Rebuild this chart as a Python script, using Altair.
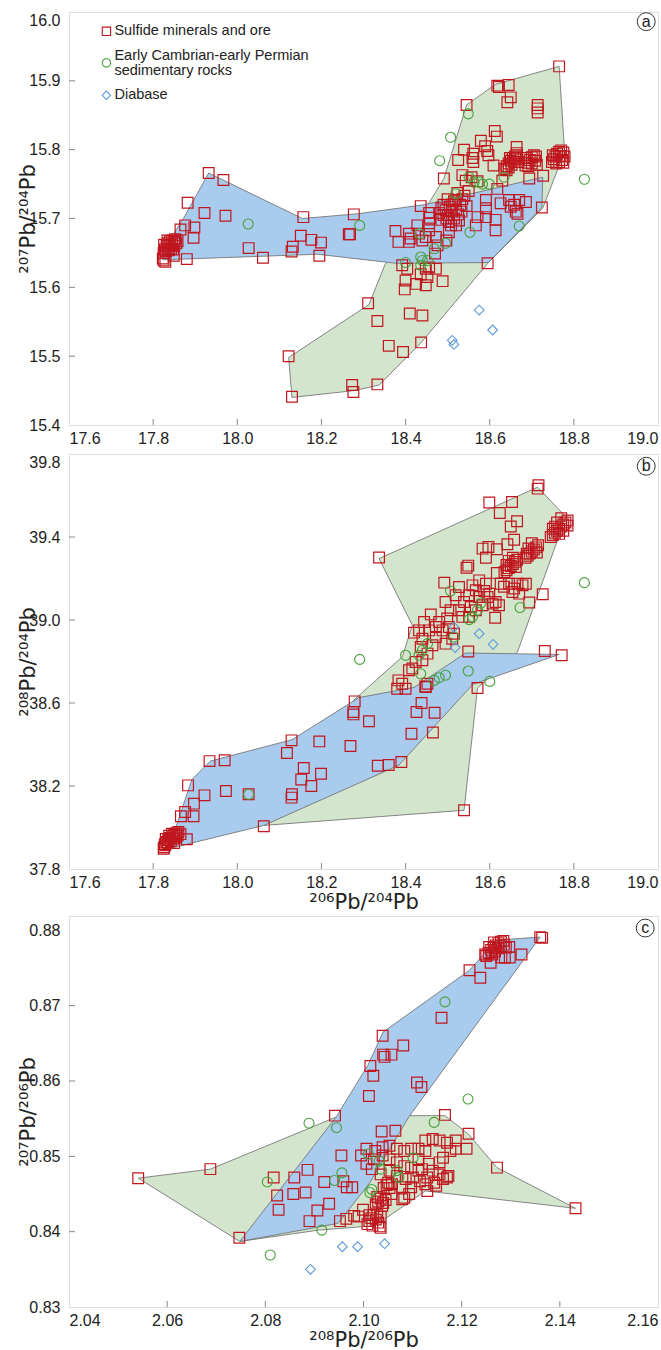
import altair as alt
import pandas as pd

RED = "#c0161e"
GREEN = "#48a03a"
BLUE = "#5b9bd8"
BLUE_FILL = "#a8cbee"
GREEN_FILL = "#d3e5cd"
EDGE = "#6a6a6a"
FRAME = "#555555"
FONT = "Liberation Sans"
TFONT = "DejaVu Sans"

# ---------------- Panel (a): 206Pb/204Pb vs 207Pb/204Pb ----------------
a_sulfide = [
    [17.882, 15.723], [17.922, 15.708], [17.972, 15.704], [18.157, 15.702], [17.876, 15.690],
    [17.898, 15.687], [17.865, 15.684], [17.896, 15.672], [18.027, 15.657], [18.061, 15.643],
    [18.132, 15.659], [18.129, 15.652], [18.151, 15.675], [18.176, 15.669], [18.199, 15.665],
    [18.195, 15.646], [18.265, 15.677], [17.880, 15.641], [17.825, 15.639], [17.829, 15.637],
    [17.823, 15.642], [17.849, 15.646], [17.932, 15.766], [17.967, 15.756],
    [17.825, 15.650], [17.828, 15.655], [17.832, 15.660], [17.836, 15.664], [17.840, 15.667],
    [17.845, 15.668], [17.850, 15.666], [17.855, 15.664], [17.830, 15.652], [17.835, 15.657],
    [17.840, 15.660], [17.845, 15.662], [17.850, 15.660], [17.838, 15.654], [17.843, 15.656],
    [17.848, 15.655], [17.826, 15.662], [17.852, 15.670], [17.858, 15.667], [17.834, 15.668],
    [18.765, 15.921], [18.618, 15.893], [18.622, 15.891], [18.645, 15.894], [18.650, 15.876],
    [18.642, 15.869], [18.714, 15.865], [18.714, 15.860], [18.714, 15.854], [18.545, 15.865],
    [18.612, 15.827], [18.617, 15.819], [18.579, 15.813], [18.589, 15.805], [18.594, 15.798],
    [18.597, 15.792], [18.539, 15.800], [18.561, 15.794], [18.559, 15.788], [18.561, 15.782],
    [18.525, 15.785], [18.609, 15.777], [18.664, 15.804], [18.664, 15.795],
    [18.635, 15.772], [18.640, 15.776], [18.645, 15.780], [18.650, 15.784], [18.655, 15.788],
    [18.660, 15.790], [18.665, 15.792], [18.645, 15.774], [18.652, 15.778], [18.658, 15.782],
    [18.640, 15.770], [18.662, 15.786], [18.648, 15.788], [18.668, 15.782],
    [18.685, 15.777], [18.690, 15.781], [18.695, 15.785], [18.700, 15.789], [18.705, 15.792],
    [18.710, 15.790], [18.692, 15.776], [18.700, 15.780], [18.708, 15.784], [18.688, 15.788],
    [18.712, 15.778],
    [18.748, 15.782], [18.752, 15.786], [18.756, 15.790], [18.760, 15.794], [18.765, 15.797],
    [18.770, 15.799], [18.775, 15.796], [18.778, 15.790], [18.772, 15.785], [18.765, 15.782],
    [18.758, 15.780], [18.768, 15.791], [18.750, 15.792], [18.775, 15.781],
    [18.694, 15.758], [18.727, 15.762], [18.491, 15.758], [18.535, 15.763], [18.543, 15.755],
    [18.557, 15.760], [18.571, 15.754], [18.618, 15.743], [18.630, 15.755], [18.591, 15.727],
    [18.626, 15.722], [18.646, 15.727], [18.658, 15.720], [18.670, 15.727], [18.686, 15.724],
    [18.662, 15.710], [18.650, 15.717], [18.666, 15.707], [18.614, 15.698], [18.614, 15.683],
    [18.571, 15.702], [18.591, 15.702], [18.567, 15.690], [18.724, 15.716], [18.436, 15.718],
    [18.456, 15.708], [18.458, 15.701], [18.456, 15.693], [18.523, 15.737], [18.519, 15.727],
    [18.511, 15.720],
    [18.485, 15.715], [18.490, 15.720], [18.495, 15.712], [18.500, 15.705], [18.505, 15.717],
    [18.510, 15.710], [18.515, 15.700], [18.520, 15.713], [18.525, 15.706], [18.530, 15.720],
    [18.535, 15.728], [18.540, 15.733], [18.545, 15.718], [18.497, 15.700], [18.503, 15.695],
    [18.490, 15.705], [18.508, 15.690], [18.515, 15.725], [18.527, 15.697], [18.480, 15.708],
    [18.500, 15.728], [18.550, 15.740], [18.485, 15.698], [18.520, 15.690], [18.533, 15.710],
    [18.376, 15.682], [18.383, 15.666], [18.408, 15.678], [18.412, 15.671], [18.408, 15.666],
    [18.428, 15.690], [18.432, 15.678], [18.440, 15.668], [18.448, 15.673], [18.472, 15.673],
    [18.476, 15.661], [18.470, 15.649], [18.503, 15.680], [18.497, 15.668], [18.456, 15.683],
    [18.392, 15.632], [18.404, 15.627], [18.436, 15.619], [18.448, 15.627], [18.456, 15.629],
    [18.472, 15.627], [18.452, 15.615], [18.400, 15.610], [18.425, 15.605], [18.398, 15.597],
    [18.448, 15.603], [18.488, 15.609], [18.595, 15.635], [18.311, 15.577], [18.333, 15.551],
    [18.410, 15.562], [18.440, 15.559], [18.360, 15.515], [18.394, 15.506], [18.437, 15.520],
    [18.273, 15.458], [18.276, 15.448], [18.333, 15.459], [18.122, 15.500], [18.130, 15.441],
    [18.277, 15.706], [18.268, 15.677], [18.591, 15.715],
]
a_sediment = [
    [18.549, 15.852], [18.507, 15.818], [18.481, 15.784], [18.825, 15.757], [18.551, 15.760],
    [18.563, 15.753], [18.575, 15.753], [18.583, 15.750], [18.599, 15.750], [18.634, 15.760],
    [18.519, 15.736], [18.291, 15.690], [18.433, 15.678], [18.553, 15.680], [18.670, 15.689],
    [18.495, 15.664], [18.468, 15.656], [18.400, 15.636], [18.436, 15.644], [18.440, 15.639],
    [18.452, 15.639], [18.436, 15.632], [18.026, 15.692],
]
a_diabase = [[18.575, 15.567], [18.607, 15.538], [18.511, 15.523], [18.515, 15.517]]
a_blue_field = [
    [17.932, 15.766], [18.155, 15.700], [18.288, 15.707], [18.444, 15.720], [18.726, 15.760],
    [18.724, 15.716], [18.597, 15.636], [18.376, 15.635], [18.22, 15.646], [18.19, 15.648],
    [17.823, 15.640], [17.817, 15.644], [17.855, 15.684], [17.872, 15.700],
]
a_green_field = [
    [18.765, 15.921], [18.614, 15.895], [18.545, 15.865], [18.491, 15.758], [18.448, 15.715],
    [18.351, 15.633], [18.313, 15.575], [18.122, 15.498], [18.130, 15.440], [18.278, 15.450],
    [18.337, 15.458], [18.436, 15.519], [18.597, 15.636], [18.726, 15.715], [18.778, 15.797],
]

# ---------------- Panel (b): 206Pb/204Pb vs 208Pb/204Pb ----------------
b_sulfide = [
    [17.883, 38.203], [17.922, 38.155], [17.973, 38.176], [17.897, 38.115], [17.876, 38.075],
    [17.866, 38.054], [17.896, 38.054], [17.880, 37.943], [17.825, 37.898], [17.829, 37.914],
    [17.934, 38.320], [17.970, 38.324], [18.027, 38.160], [18.063, 38.006], [18.118, 38.359],
    [18.129, 38.420], [18.195, 38.415], [18.158, 38.287], [18.152, 38.231], [18.176, 38.200],
    [18.199, 38.259], [18.130, 38.160], [18.129, 38.144], [18.269, 38.393], [18.279, 38.608],
    [18.276, 38.557], [18.276, 38.545], [18.313, 38.512], [18.334, 38.298], [18.360, 38.301],
    [18.390, 38.316],
    [17.828, 37.920], [17.832, 37.930], [17.836, 37.940], [17.840, 37.950], [17.845, 37.958],
    [17.850, 37.965], [17.855, 37.972], [17.860, 37.978], [17.835, 37.925], [17.842, 37.935],
    [17.848, 37.945], [17.853, 37.952], [17.858, 37.960], [17.830, 37.945], [17.838, 37.960],
    [17.845, 37.970], [17.865, 37.968], [17.826, 37.905], [17.850, 37.925],
    [18.414, 38.452], [18.465, 38.458], [18.426, 38.557], [18.438, 38.600], [18.469, 38.553],
    [18.447, 38.680], [18.571, 38.672], [18.731, 38.851], [18.771, 38.830], [18.549, 38.848],
    [18.539, 38.083],
    [18.337, 39.301], [18.714, 39.633], [18.716, 39.649], [18.599, 39.566], [18.653, 39.569],
    [18.624, 39.516], [18.650, 39.451], [18.665, 39.476], [18.658, 39.387], [18.642, 39.365],
    [18.583, 39.344], [18.597, 39.352], [18.617, 39.341], [18.591, 39.300], [18.545, 39.252],
    [18.549, 39.262], [18.617, 39.227], [18.492, 39.180], [18.726, 39.124], [18.694, 39.084],
    [18.613, 39.011],
    [18.745, 39.40], [18.750, 39.41], [18.755, 39.42], [18.760, 39.43], [18.765, 39.44],
    [18.770, 39.45], [18.775, 39.46], [18.780, 39.47], [18.785, 39.48], [18.770, 39.49],
    [18.760, 39.47], [18.750, 39.44], [18.775, 39.43], [18.785, 39.455], [18.765, 39.415],
    [18.755, 39.45],
    [18.685, 39.30], [18.690, 39.31], [18.695, 39.32], [18.700, 39.33], [18.705, 39.34],
    [18.710, 39.35], [18.715, 39.36], [18.700, 39.37], [18.692, 39.345], [18.712, 39.325],
    [18.688, 39.32],
    [18.635, 39.23], [18.640, 39.24], [18.645, 39.25], [18.650, 39.26], [18.655, 39.27],
    [18.660, 39.28], [18.665, 39.29], [18.655, 39.30], [18.645, 39.285], [18.662, 39.255],
    [18.640, 39.265],
    [18.626, 39.175], [18.634, 39.160], [18.646, 39.175], [18.658, 39.152], [18.666, 39.175],
    [18.678, 39.167], [18.686, 39.175], [18.654, 39.135], [18.670, 39.127],
    [18.575, 39.191], [18.559, 39.167], [18.591, 39.175], [18.567, 39.143], [18.587, 39.140],
    [18.599, 39.127], [18.551, 39.119], [18.575, 39.111], [18.595, 39.111], [18.607, 39.079],
    [18.622, 39.071], [18.614, 39.087], [18.527, 39.159], [18.519, 39.119], [18.539, 39.087],
    [18.555, 39.063], [18.507, 39.047], [18.527, 39.047], [18.495, 39.087], [18.499, 39.007],
    [18.535, 39.015], [18.551, 39.015], [18.567, 39.047], [18.583, 39.071], [18.488, 38.950],
    [18.472, 38.966], [18.460, 39.027], [18.444, 38.990], [18.456, 38.950], [18.480, 38.990],
    [18.503, 38.966], [18.515, 38.934], [18.472, 38.918], [18.432, 38.950], [18.420, 38.939],
    [18.440, 38.910], [18.464, 38.878], [18.495, 38.886], [18.511, 38.910], [18.436, 38.870],
    [18.452, 38.838], [18.440, 38.806], [18.424, 38.798], [18.408, 38.758], [18.416, 38.766],
    [18.383, 38.709], [18.392, 38.693], [18.380, 38.669], [18.400, 38.669], [18.452, 38.693],
    [18.448, 38.677],
]
b_sediment = [
    [18.825, 39.180], [18.672, 39.060], [18.507, 39.140], [18.579, 39.082], [18.571, 39.047],
    [18.559, 39.015], [18.551, 39.002], [18.515, 38.918], [18.452, 38.886], [18.440, 38.854],
    [18.432, 38.830], [18.400, 38.830], [18.436, 38.741], [18.468, 38.709], [18.480, 38.722],
    [18.495, 38.734], [18.549, 38.754], [18.600, 38.704], [18.291, 38.810], [18.027, 38.160],
]
b_diabase = [[18.575, 38.934], [18.608, 38.883], [18.515, 38.966], [18.518, 38.867]]
b_blue_field = [
    [17.837, 37.898], [17.892, 38.231], [17.936, 38.320], [18.130, 38.423], [18.289, 38.626],
    [18.42, 38.675], [18.543, 38.841], [18.765, 38.834], [18.56, 38.69], [18.42, 38.38],
    [18.384, 38.300], [18.063, 38.010],
]
b_green_field = [
    [18.337, 39.296], [18.714, 39.640], [18.781, 39.497], [18.666, 38.846], [18.571, 38.672],
    [18.539, 38.083], [18.063, 38.010], [18.28, 38.62], [18.392, 38.822], [18.416, 38.975],
]

# ---------------- Panel (c): 208Pb/206Pb vs 207Pb/206Pb ----------------
c_sulfide = [
    [2.1360, 0.8791], [2.1364, 0.8790],
    [2.1250, 0.8766], [2.1255, 0.8770], [2.1260, 0.8774], [2.1265, 0.8777], [2.1270, 0.8780],
    [2.1275, 0.8783], [2.1280, 0.8785], [2.1285, 0.8786], [2.1262, 0.8768], [2.1268, 0.8772],
    [2.1274, 0.8776], [2.1280, 0.8779], [2.1286, 0.8781], [2.1256, 0.8778], [2.1266, 0.8784],
    [2.1290, 0.8777],
    [2.1322, 0.8768], [2.1297, 0.8778], [2.1298, 0.8764], [2.1288, 0.8764], [2.1281, 0.8764],
    [2.1259, 0.8757], [2.1248, 0.8768], [2.1216, 0.8747], [2.1238, 0.8737], [2.1159, 0.8684],
    [2.1039, 0.8660], [2.1081, 0.8647], [2.1040, 0.8635], [2.1057, 0.8635], [2.1043, 0.8632],
    [2.1014, 0.8620], [2.1020, 0.8607], [2.1109, 0.8598], [2.1118, 0.8592], [2.1011, 0.8580],
    [2.0942, 0.8554], [2.1166, 0.8555], [2.1037, 0.8533], [2.1065, 0.8534], [2.1214, 0.8530],
    [2.0541, 0.8471], [2.0688, 0.8483], [2.0747, 0.8392], [2.0817, 0.8472], [2.0859, 0.8472],
    [2.0886, 0.8482], [2.0824, 0.8448], [2.0827, 0.8429], [2.0857, 0.8450], [2.0882, 0.8452],
    [2.0920, 0.8466], [2.0930, 0.8437], [2.0906, 0.8428], [2.0890, 0.8414], [2.0955, 0.8501],
    [2.0959, 0.8467], [2.0966, 0.8459], [2.0977, 0.8459], [2.0952, 0.8414], [2.0965, 0.8417],
    [2.0981, 0.8421], [2.0999, 0.8429], [2.0990, 0.8420], [2.1272, 0.8485], [2.1432, 0.8431],
    [2.1035, 0.8405],
    [2.1008, 0.8410], [2.1012, 0.8414], [2.1016, 0.8418], [2.1020, 0.8422], [2.1025, 0.8416],
    [2.1030, 0.8412], [2.1035, 0.8420], [2.1018, 0.8408], [2.1028, 0.8424], [2.1012, 0.8422],
    [2.1033, 0.8407],
    [2.1025, 0.8436], [2.1030, 0.8440], [2.1035, 0.8444], [2.1040, 0.8438], [2.1045, 0.8442],
    [2.1028, 0.8446], [2.1038, 0.8434],
    [2.1041, 0.8458], [2.1047, 0.8462], [2.1053, 0.8458], [2.1058, 0.8463], [2.1050, 0.8465],
    [2.0995, 0.8501], [2.1006, 0.8510], [2.1024, 0.8507], [2.1039, 0.8512], [2.1053, 0.8514],
    [2.1068, 0.8510], [2.1083, 0.8507], [2.1097, 0.8510], [2.1112, 0.8510], [2.1126, 0.8521],
    [2.1141, 0.8523], [2.1155, 0.8521], [2.1170, 0.8518], [2.1188, 0.8521], [2.1210, 0.8510],
    [2.1188, 0.8510], [2.1126, 0.8507], [2.1112, 0.8496], [2.1155, 0.8492], [2.1133, 0.8490],
    [2.1119, 0.8483], [2.1097, 0.8485], [2.1083, 0.8487], [2.1068, 0.8492], [2.1053, 0.8496],
    [2.1039, 0.8501], [2.1021, 0.8496], [2.1006, 0.8490], [2.1017, 0.8483], [2.1035, 0.8476],
    [2.1053, 0.8481], [2.1068, 0.8474], [2.1086, 0.8470], [2.1101, 0.8472], [2.1115, 0.8467],
    [2.1130, 0.8472], [2.1144, 0.8465], [2.1162, 0.8470], [2.1173, 0.8474], [2.1170, 0.8472],
    [2.1130, 0.8454], [2.1148, 0.8461], [2.1079, 0.8459], [2.1093, 0.8450], [2.1079, 0.8443],
    [2.1057, 0.8450], [2.1083, 0.8445], [2.1097, 0.8459], [2.1141, 0.8481], [2.1155, 0.8476],
    [2.1126, 0.8463], [2.1112, 0.8481], [2.1162, 0.8498], [2.1177, 0.8507],
]
c_sediment = [
    [2.1166, 0.8705], [2.1213, 0.8576], [2.0889, 0.8544], [2.0945, 0.8538], [2.1144, 0.8545],
    [2.0804, 0.8466], [2.0810, 0.8369], [2.0915, 0.8402], [2.0941, 0.8468], [2.0956, 0.8478],
    [2.1010, 0.8503], [2.1032, 0.8494], [2.1035, 0.8483], [2.1013, 0.8452], [2.1017, 0.8456],
    [2.1068, 0.8481], [2.1072, 0.8472], [2.1101, 0.8498],
]
c_diabase = [[2.0892, 0.8350], [2.0957, 0.8380], [2.0988, 0.8380], [2.1043, 0.8384]]
c_blue_field = [
    [2.0748, 0.8387], [2.0944, 0.8552], [2.1009, 0.8621], [2.1040, 0.8665], [2.1216, 0.8747],
    [2.1271, 0.8787], [2.1360, 0.8791], [2.1092, 0.8552], [2.1013, 0.8465], [2.0948, 0.8411],
]
c_green_field = [
    [2.0541, 0.8471], [2.0688, 0.8483], [2.0944, 0.8552], [2.1084, 0.8554], [2.1166, 0.8554],
    [2.1213, 0.8530], [2.1272, 0.8485], [2.1432, 0.8431], [2.1126, 0.8454], [2.1024, 0.8408],
    [2.0908, 0.8402], [2.0748, 0.8387],
]

# axis ticks / domains / titles
a_xticks = [17.6, 17.8, 18.0, 18.2, 18.4, 18.6, 18.8, 19.0]
a_yticks = [15.4, 15.5, 15.6, 15.7, 15.8, 15.9, 16.0]
b_yticks = [37.8, 38.2, 38.6, 39.0, 39.4, 39.8]
c_xticks = [2.04, 2.06, 2.08, 2.10, 2.12, 2.14, 2.16]
c_yticks = [0.83, 0.84, 0.85, 0.86, 0.87, 0.88]

legend_labels = ["Sulfide minerals and ore", "Early Cambrian-early Permian", "sedimentary rocks", "Diabase"]
legend_label_y = [15.972, 15.936, 15.915, 15.879]
legend_symbol_y = [15.972, 15.926, 15.879]
legend_x = 17.689
legend_text_x = 17.708

panel_letters = ["a", "b", "c"]
letter_pos = [[18.972, 15.986], [18.972, 39.741], [2.1574, 0.8803]]


def pts(pairs):
    return pd.DataFrame(pairs, columns=["x", "y"])


def poly(pairs):
    closed = pairs + [pairs[0]]
    return pd.DataFrame([{"x": p[0], "y": p[1], "i": k} for k, p in enumerate(closed)])


def panel(sul, sed, dia, blue, green, xdom, ydom, xticks, yticks, xfmt, yfmt,
          w, h, xtitle, ytitle, letter, lpos, top_value, legend=False, xtitle_pad=4):
    xs = alt.Scale(domain=xdom, nice=False, zero=False)
    ys = alt.Scale(domain=ydom, nice=False, zero=False)
    xkw = dict(values=xticks, format=xfmt, ticks=False, domain=False, grid=False,
               labelFlush=True, labelFontSize=16, labelPadding=5, labelFont=FONT,
               labelColor="#222222", labelOverlap=False)
    if xtitle:
        xkw.update(title=xtitle, titleFontSize=21, titleFont=TFONT, titleFontWeight="normal",
                   titleColor="#222222", titlePadding=xtitle_pad)
    else:
        xkw.update(title="")
    xax = alt.Axis(**xkw)
    yax = alt.Axis(values=yticks, format=yfmt, ticks=False, domain=False, grid=False,
                   labelFontSize=16, labelPadding=9, labelFont=FONT, labelColor="#222222",
                   labelOverlap=False,
                   labelBaseline={"condition": {"test": f"datum.value >= {top_value}", "value": "top"},
                                  "value": "middle"},
                   title=ytitle, titleFontSize=21, titleFont=TFONT, titleFontWeight="normal",
                   titleColor="#222222", titlePadding=-10)
    X = alt.X("x:Q", scale=xs, axis=xax)
    Y = alt.Y("y:Q", scale=ys, axis=yax)

    layers = []
    layers.append(alt.Chart(poly(green)).mark_line(fill=GREEN_FILL, stroke=EDGE, strokeWidth=0.8)
                  .encode(x=X, y=Y, order="i:Q"))
    layers.append(alt.Chart(poly(blue)).mark_line(fill=BLUE_FILL, stroke=EDGE, strokeWidth=0.8)
                  .encode(x=X, y=Y, order="i:Q"))
    layers.append(alt.Chart(pts(sul)).mark_point(shape="square", size=115, filled=False,
                                                   stroke=RED, strokeWidth=1.2, opacity=1)
                  .encode(x=X, y=Y))
    layers.append(alt.Chart(pts(sed)).mark_point(shape="circle", size=100, filled=False,
                                                   stroke=GREEN, strokeWidth=1.1, opacity=1)
                  .encode(x=X, y=Y))
    layers.append(alt.Chart(pts(dia)).mark_point(shape="diamond", size=95, filled=False,
                                                   stroke=BLUE, strokeWidth=1.1, opacity=1)
                  .encode(x=X, y=Y))
    # inward ticks
    layers.append(alt.Chart(pd.DataFrame({"x": xticks[1:-1]})).mark_tick(color=FRAME, thickness=1, size=6)
                  .encode(x=X, y=alt.value(h - 3)))
    layers.append(alt.Chart(pd.DataFrame({"y": yticks[1:-1]})).mark_tick(color=FRAME, thickness=1, size=6)
                  .encode(y=Y, x=alt.value(3)))
    # circled panel letter
    ldf = pd.DataFrame({"x": [lpos[0]], "y": [lpos[1]], "t": [letter]})
    layers.append(alt.Chart(ldf).mark_point(shape="circle", size=320, filled=False, stroke="#333333",
                                            strokeWidth=1, opacity=1).encode(x=X, y=Y))
    layers.append(alt.Chart(ldf).mark_text(fontSize=16, font=FONT, color="#222222", baseline="middle",
                                           dy=0).encode(x=X, y=Y, text="t:N"))
    if legend:
        sym = [("square", RED), ("circle", GREEN), ("diamond", BLUE)]
        for (shape, col), yy in zip(sym, legend_symbol_y):
            sdf = pd.DataFrame({"x": [legend_x], "y": [yy]})
            layers.append(alt.Chart(sdf).mark_point(shape=shape, size=70, filled=False, stroke=col,
                                                    strokeWidth=1.1, opacity=1).encode(x=X, y=Y))
        tdf = pd.DataFrame({"x": [legend_text_x] * len(legend_labels), "y": legend_label_y,
                            "t": legend_labels})
        layers.append(alt.Chart(tdf).mark_text(align="left", baseline="middle", fontSize=14.5, font=FONT,
                                               color="#222222").encode(x=X, y=Y, text="t:N"))
    return alt.layer(*layers).properties(width=w, height=h)


pa = panel(a_sulfide, a_sediment, a_diabase, a_blue_field, a_green_field,
           [17.6, 19.0], [15.4, 16.0], a_xticks, a_yticks, ".1f", ".1f",
           589, 413, None, "²⁰⁷Pb/²⁰⁴Pb", "a", letter_pos[0], 15.99, legend=True)
pb = panel(b_sulfide, b_sediment, b_diabase, b_blue_field, b_green_field,
           [17.6, 19.0], [37.8, 39.8], a_xticks, b_yticks, ".1f", ".1f",
           589, 415, "²⁰⁶Pb/²⁰⁴Pb", "²⁰⁸Pb/²⁰⁴Pb", "b", letter_pos[1], 39.79, xtitle_pad=1)
pc = panel(c_sulfide, c_sediment, c_diabase, c_blue_field, c_green_field,
           [2.04, 2.16], [0.83, 0.8819], c_xticks, c_yticks, ".2f", ".2f",
           589, 391, "²⁰⁸Pb/²⁰⁶Pb", "²⁰⁷Pb/²⁰⁶Pb", "c", letter_pos[2], 0.9, xtitle_pad=1)

top = alt.vconcat(pa, pb, spacing=6)
chart = alt.vconcat(top, pc, spacing=2).properties(
    padding={"left": 17, "top": 10, "right": 1, "bottom": 0}
).configure_view(stroke=FRAME, strokeWidth=1.5).configure(background="white")

chart.save("out.html", embed_options={"renderer": "svg", "actions": False})
